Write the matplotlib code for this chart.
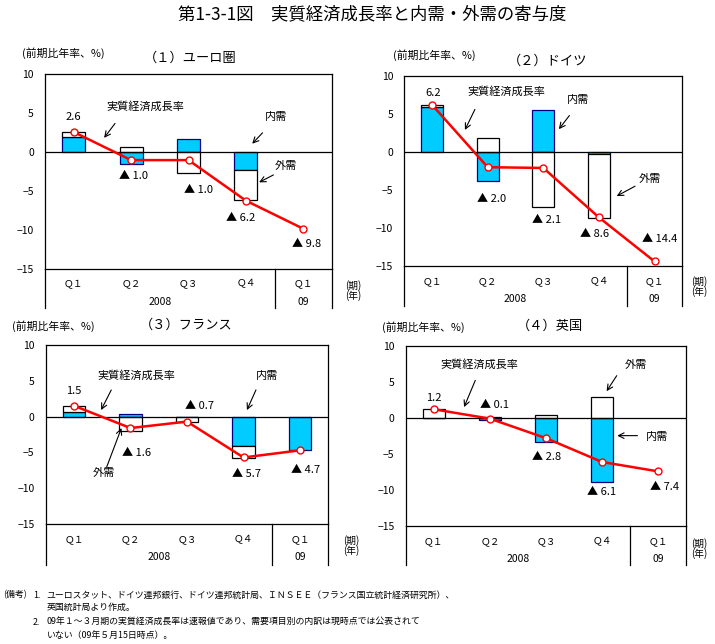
"""第1-3-1図 実質経済成長率と内需・外需の寄与度 (4 panels)."""
import numpy as np
import matplotlib
matplotlib.use("Agg")
import matplotlib.pyplot as plt
from matplotlib import transforms
from matplotlib.lines import Line2D

plt.rcParams["font.family"] = ["Noto Sans CJK JP", "DejaVu Sans"]

W, H = 715, 644
CYAN = "#00CCFF"
NAVY = "#000080"
RED = "#FF0000"

# ---- data -------------------------------------------------------------
quarters = ["Ｑ１", "Ｑ２", "Ｑ３", "Ｑ４", "Ｑ１"]
years = ["2008", "09"]

euro_gdp = [2.6, -1.0, -1.0, -6.2, -9.8]
euro_dom = [1.9, -1.5, 1.7, -2.3, np.nan]
euro_ext = [0.7, 0.7, -2.6, -3.8, np.nan]

ger_gdp = [6.2, -2.0, -2.1, -8.6, -14.4]
ger_dom = [5.9, -3.8, 5.5, -0.2, np.nan]
ger_ext = [0.3, 1.9, -7.2, -8.5, np.nan]

fra_gdp = [1.5, -1.6, -0.7, -5.7, -4.7]
fra_dom = [0.6, 0.3, 0.0, -4.1, -4.7]
fra_ext = [0.9, -2.0, -0.8, -1.7, np.nan]

uk_gdp = [1.2, -0.1, -2.8, -6.1, -7.4]
uk_dom = [0.0, -0.3, -3.3, -8.8, np.nan]
uk_ext = [1.2, 0.1, 0.4, 2.9, np.nan]

# ---- layout (pixels) ----------------------------------------------------
panels = [
    dict(title="（１）ユーロ圏", gdp=euro_gdp, dom=euro_dom, ext=euro_ext,
         box=(45, 74.3, 332, 269.3), cat_bottom=308, q_y=283.3, yr_y=301.7,
         unit_xy=(22, 52.7), title_xy=(190, 58.3), ki_xy=(345, 285.5),
         vlabels=[(0.0, 4.5), (1.04, -3.1), (2.17, -4.8), (2.9, -8.4), (4.06, -11.8)],
         notes=[("実質経済成長率", (1.25, 5.9), (0.72, 3.7), (0.53, 1.85)),
                ("内需", (3.52, 4.5), (3.29, 2.5), (3.11, 1.1)),
                ("外需", (3.69, -1.7), (3.48, -2.9), (3.23, -3.85))]),
    dict(title="（２）ドイツ", gdp=ger_gdp, dom=ger_dom, ext=ger_ext,
         box=(404.3, 76, 682.3, 266), cat_bottom=306, q_y=281, yr_y=299,
         unit_xy=(393, 55), title_xy=(548, 61.7), ki_xy=(691, 282),
         vlabels=[(0.02, 7.8), (1.07, -6.2), (2.06, -9.0), (2.93, -10.8), (4.1, -11.5)],
         notes=[("実質経済成長率", (1.34, 7.9), (0.77, 5.6), (0.59, 2.9)),
                ("内需", (2.63, 6.8), (2.47, 4.8), (2.28, 3.0)),
                ("外需", (3.92, -3.6), (3.65, -4.5), (3.32, -5.8))]),
    dict(title="（３）フランス", gdp=fra_gdp, dom=fra_dom, ext=fra_ext,
         box=(45.7, 344.7, 328.3, 524.3), cat_bottom=565, q_y=539, yr_y=557.5,
         unit_xy=(11.7, 325.7), title_xy=(186, 325), ki_xy=(343, 541),
         vlabels=[(0.0, 3.6), (1.11, -5.1), (2.23, 1.4), (3.06, -8.0), (4.09, -7.4)],
         notes=[("実質経済成長率", (1.11, 5.7), (0.66, 3.7), (0.48, 0.9)),
                ("内需", (3.41, 5.7), (3.22, 3.7), (3.06, 0.9)),
                ("外需", (0.52, -7.9), (0.58, -7.0), (0.84, -1.6))]),
    dict(title="（４）英国", gdp=uk_gdp, dom=uk_dom, ext=uk_ext,
         box=(405.7, 345.7, 686.3, 526.3), cat_bottom=565, q_y=541, yr_y=559.3,
         unit_xy=(381.7, 326.7), title_xy=(550, 326.7), ki_xy=(691, 544),
         vlabels=[(0.0, 2.8), (1.09, 1.8), (2.01, -5.4), (2.99, -10.3), (4.12, -9.6)],
         notes=[("実質経済成長率", (0.81, 7.4), (0.74, 5.2), (0.54, 1.5)),
                ("内需", (3.97, -2.6), (3.63, -2.45), (3.27, -2.45)),
                ("外需", (3.6, 7.4), (3.26, 5.85), (3.08, 3.7))]),
]


def fy(py):
    return 1 - py / H


def fx(px):
    return px / W


def fmt(v):
    return "{0:.1f}".format(v) if v >= 0 else "▲ {0:.1f}".format(-v)


fig = plt.figure(figsize=(W / 100, H / 100), dpi=100)

for p in panels:
    l, t, r, b = p["box"]
    ax = fig.add_axes([fx(l), fy(b), fx(r) - fx(l), (b - t) / H])
    xs = np.arange(len(quarters))
    dom = np.asarray(p["dom"], dtype=float)
    ext = np.asarray(p["ext"], dtype=float)
    for i in xs:
        d, e = dom[i], ext[i]
        if not np.isnan(d):
            ax.bar(i, d, width=0.4, color=CYAN, edgecolor=NAVY, linewidth=0.9, zorder=2)
        if not np.isnan(e):
            base = d if (not np.isnan(d) and d * e > 0) else 0
            ax.bar(i, e, bottom=base, width=0.4, color="white", edgecolor="black",
                   linewidth=0.9, zorder=2)
    ax.axhline(0, color="black", linewidth=0.9, zorder=3)
    ax.plot(xs, p["gdp"], color=RED, linewidth=1.8, marker="o", markersize=5,
            markerfacecolor="white", markeredgecolor=RED, markeredgewidth=1, zorder=4)
    for (lx, ly), v in zip(p["vlabels"], p["gdp"]):
        ax.text(lx, ly, fmt(v), ha="center", va="center", fontsize=8)
    for txt, txy, a0, a1 in p["notes"]:
        ax.text(txy[0], txy[1], txt, ha="center", va="center", fontsize=8)
        ax.annotate("", xy=a1, xytext=a0,
                    arrowprops=dict(arrowstyle="->", color="black", lw=0.8,
                                    shrinkA=0, shrinkB=0))
    ax.set_xlim(-0.5, 4.5)
    ax.set_ylim(-15, 10)
    ax.set_yticks([-15, -10, -5, 0, 5, 10])
    ax.set_xticks([])
    ax.tick_params(axis="y", length=0, pad=8, labelsize=7.5)
    for s in ax.spines.values():
        s.set_linewidth(0.9)

    # category box under the plot
    tr = transforms.blended_transform_factory(ax.transData, fig.transFigure)
    for xv in (-0.5, 3.5, 4.5):
        fig.add_artist(Line2D([xv, xv], [fy(b), fy(p["cat_bottom"])], transform=tr,
                              color="black", linewidth=0.9))
    for i, q in enumerate(quarters):
        fig.text(i, fy(p["q_y"]), q, transform=tr, ha="center", va="center", fontsize=7)
    fig.text(1.5, fy(p["yr_y"]), years[0], transform=tr, ha="center", va="center", fontsize=7.5)
    fig.text(4, fy(p["yr_y"]), years[1], transform=tr, ha="center", va="center", fontsize=7.5)

    fig.text(fx(p["ki_xy"][0]), fy(p["ki_xy"][1]), "(期)", ha="left", va="center", fontsize=7)
    fig.text(fx(p["ki_xy"][0]), fy(p["ki_xy"][1] + 10), "(年)", ha="left", va="center", fontsize=7)
    fig.text(fx(p["unit_xy"][0]), fy(p["unit_xy"][1]), "(前期比年率、%)",
             ha="left", va="center", fontsize=7.8)
    fig.text(fx(p["title_xy"][0]), fy(p["title_xy"][1]), p["title"],
             ha="center", va="center", fontsize=9.5)

fig.text(fx(372), fy(14), "第1-3-1図　実質経済成長率と内需・外需の寄与度",
         ha="center", va="center", fontsize=12.5)

notes_fs = 6.4
fig.text(fx(3), fy(595), "(備考)", ha="left", va="center", fontsize=notes_fs)
fig.text(fx(33), fy(595), "1.", ha="left", va="center", fontsize=notes_fs)
fig.text(fx(46.7), fy(595),
         "ユーロスタット、ドイツ連邦銀行、ドイツ連邦統計局、ＩＮＳＥＥ（フランス国立統計経済研究所）、",
         ha="left", va="center", fontsize=notes_fs)
fig.text(fx(46.7), fy(607.5), "英国統計局より作成。", ha="left", va="center", fontsize=notes_fs)
fig.text(fx(33), fy(622.7), "2.", ha="left", va="center", fontsize=notes_fs)
fig.text(fx(46.7), fy(622.7),
         "09年１～３月期の実質経済成長率は速報値であり、需要項目別の内訳は現時点では公表されて",
         ha="left", va="center", fontsize=notes_fs)
fig.text(fx(46.7), fy(635), "いない（09年５月15日時点）。", ha="left", va="center", fontsize=notes_fs)

fig.savefig("out.png", dpi=100)
